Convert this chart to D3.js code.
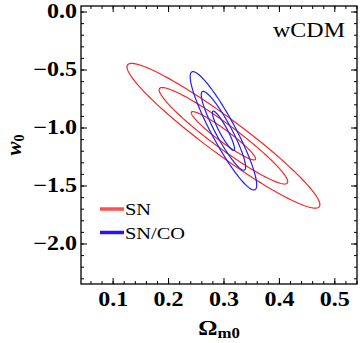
<!DOCTYPE html>
<html>
<head>
<meta charset="utf-8">
<script src="https://cdn.jsdelivr.net/npm/d3@7"></script>
<style>
  body { margin: 0; background: #fff; }
  svg { display: block; }
  text { font-family: "Liberation Serif", "DejaVu Serif", serif; }
</style>
</head>
<body>
<script>
// axis setup
var xDomain = [0.042, 0.54]
var yDomain = [-2.345, 0.052]
var xMajor = [0.1, 0.2, 0.3, 0.4, 0.5]
var yMajor = [0.0, -0.5, -1.0, -1.5, -2.0]
var xMinor = d3.range(6, 55, 2).map(d => d / 100)
var yMinor = d3.range(0, -24, -1).map(d => d / 10)

// contour sets: centre, sigmas, correlation, sigma levels
var seriesNames = ["SN", "SN/CO"]
var seriesColors = ["#ee2a2a", "#2020ee"]
var legendColors = ["#ff5050", "#2a10ff"]
var centers = [[0.299, -1.067], [0.299, -1.024]]
var sigmaX = [0.058, 0.020]
var sigmaY = [0.208, 0.170]
var rho = [-0.952, -0.914]
var levels = [1, 2, 3]

var W = 360, H = 343
var L = 81, R = 357, T = 6, B = 284
var stretch = 1.2 // source text looks wide

var xScale = d3.scaleLinear().domain(xDomain).range([L, R])
var yScale = d3.scaleLinear().domain(yDomain).range([B, T])
var fmt = d3.format(".1f")

var svg = d3.select("body").append("svg")
            .attr("width", W)
            .attr("height", H)

function wideText (x, y, anchor) {
  return svg.append("g")
            .attr("transform", "translate(" + x + "," + y + ") scale(" + stretch + ",1)")
            .append("text")
            .attr("text-anchor", anchor)
}

// ellipses
var angles = d3.range(0, 360, 2).map(d => d * Math.PI / 180)
var line = d3.line()
             .x(d => xScale(d[0]))
             .y(d => yScale(d[1]))
             .curve(d3.curveLinearClosed)

seriesNames.forEach(function (name, i) {
  levels.forEach(function (k) {
    var pts = angles.map(function (t) {
      var u = Math.cos(t), v = Math.sin(t)
      return [centers[i][0] + k * sigmaX[i] * u,
              centers[i][1] + k * sigmaY[i] * (rho[i] * u + Math.sqrt(1 - rho[i] * rho[i]) * v)]
    })
    svg.append("path")
       .attr("d", line(pts))
       .attr("fill", "none")
       .attr("stroke", seriesColors[i])
       .attr("stroke-width", 1.2)
  })
})

// frame
svg.append("rect")
   .attr("x", L).attr("y", T)
   .attr("width", R - L).attr("height", B - T)
   .attr("fill", "none")
   .attr("stroke", "#000")
   .attr("stroke-width", 1.3)

function xTicks (vals, len) {
  svg.selectAll(null).data(vals).enter().append("path")
     .attr("d", d => "M" + xScale(d) + "," + B + "v" + (-len) + "M" + xScale(d) + "," + T + "v" + len)
     .attr("stroke", "#000").attr("stroke-width", 1)
}
function yTicks (vals, len) {
  svg.selectAll(null).data(vals).enter().append("path")
     .attr("d", d => "M" + L + "," + yScale(d) + "h" + len + "M" + R + "," + yScale(d) + "h" + (-len))
     .attr("stroke", "#000").attr("stroke-width", 1)
}
xTicks(xMinor, 3)
xTicks(xMajor, 6)
yTicks(yMinor, 3)
yTicks(yMajor, 6)

// tick labels
xMajor.forEach(function (d) {
  wideText(xScale(d), 306, "middle")
    .attr("font-size", 20).attr("font-weight", "bold")
    .text(fmt(d))
})
yMajor.forEach(function (d) {
  wideText(77, yScale(d) + 6, "end")
    .attr("font-size", 20).attr("font-weight", "bold")
    .text(fmt(Math.abs(d) < 1e-9 ? 0 : d))
})

// axis titles
var xt = wideText((L + R) / 2, 335, "middle")
           .attr("font-size", 20).attr("font-weight", "bold")
xt.append("tspan").text("\u03A9")
xt.append("tspan").attr("font-size", 14).attr("dy", 3).text("m0")

var yt = svg.append("text")
            .attr("transform", "translate(21," + ((T + B) / 2) + ") rotate(-90)")
            .attr("text-anchor", "middle")
            .attr("font-size", 21).attr("font-weight", "bold")
yt.append("tspan").attr("font-style", "italic").text("w")
yt.append("tspan").attr("font-size", 14).attr("dy", 3).text("0")

// model label
wideText(345, 37, "end")
  .attr("font-size", 20)
  .text("wCDM")

// legend
seriesNames.forEach(function (name, i) {
  var ly = 209 + i * 23.5
  svg.append("line")
     .attr("x1", 100).attr("x2", 124)
     .attr("y1", ly).attr("y2", ly)
     .attr("stroke", legendColors[i])
     .attr("stroke-width", 3.5)
  wideText(125, ly + 6, "start")
    .attr("font-size", 17)
    .text(name)
})
</script>
</body>
</html>
